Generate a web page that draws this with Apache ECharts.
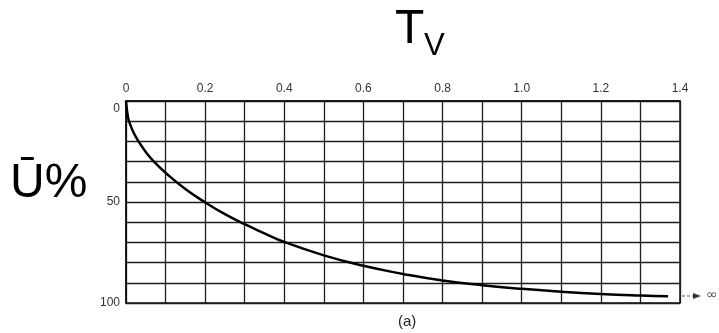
<!DOCTYPE html>
<html>
<head>
<meta charset="utf-8">
<script src="https://cdn.jsdelivr.net/npm/echarts@6/dist/echarts.min.js"></script>
<style>
  html, body { margin: 0; padding: 0; background: #fff; }
  #chart { width: 719px; height: 333px; }
</style>
</head>
<body>
<div id="chart"></div>
<script>
var tvValues = [0, 0.005, 0.01, 0.02, 0.03, 0.05, 0.07, 0.1, 0.15, 0.2, 0.25, 0.3, 0.35, 0.4,
                0.5, 0.6, 0.7, 0.8, 0.9, 1.0, 1.1, 1.2, 1.3, 1.37];
var uValues = [0, 8, 11.3, 16, 19.5, 25.2, 29.9, 35.5, 43.6, 50.2, 56, 61, 65.5, 69.8,
               76.4, 81.6, 85.6, 88.9, 91.2, 93, 94.4, 95.5, 96.3, 96.7];
var xTickLabels = ['0', '0.2', '0.4', '0.6', '0.8', '1.0', '1.2', '1.4'];
var yTickLabels = ['0', '50', '100'];

var curve = tvValues.map(function (t, i) { return [t, uValues[i]]; });

var chart = echarts.init(document.getElementById('chart'));
var gridLine = { show: true, lineStyle: { color: '#1e1e1e', width: 1.3 } };
var labelFont = { fontFamily: 'Liberation Sans, Arial, sans-serif', fontSize: 12, color: '#333' };

chart.setOption({
  backgroundColor: '#fff',
  animation: false,
  grid: { left: 126, right: 39, top: 101, bottom: 30, show: true, borderColor: '#111', borderWidth: 1.5 },
  xAxis: {
    type: 'value', position: 'top', min: 0, max: 1.4, interval: 0.1,
    axisLine: { show: true, lineStyle: { color: '#111', width: 1.5 } },
    axisTick: { show: false },
    splitLine: gridLine,
    axisLabel: Object.assign({
      margin: 6,
      formatter: function (v) {
        var k = Math.round(v * 10);
        if (k % 2) return '';
        return xTickLabels[k / 2] || '';
      }
    }, labelFont)
  },
  yAxis: {
    type: 'value', inverse: true, min: 0, max: 100, interval: 10,
    axisLine: { show: true, lineStyle: { color: '#111', width: 1.5 } },
    axisTick: { show: false },
    splitLine: gridLine,
    axisLabel: Object.assign({
      margin: 6,
      formatter: function (v) {
        var k = Math.round(v);
        if (k % 50) return '';
        // the top "0" sits a little below the line in the original
        return k === 0 ? '{low|0}' : yTickLabels[k / 50];
      },
      rich: { low: { padding: [16, 0, 0, 0], fontFamily: 'Liberation Sans, Arial, sans-serif', fontSize: 12, color: '#333' } }
    }, labelFont)
  },
  series: [{
    type: 'line',
    data: curve,
    smooth: true,
    showSymbol: false,
    lineStyle: { color: '#000', width: 2.5 }
  }],
  graphic: [
    { type: 'text', left: 395, top: 6, style: { text: 'T', fontSize: 48, fontFamily: 'Liberation Sans, Arial, sans-serif', fill: '#000' } },
    { type: 'text', left: 424, top: 31, style: { text: 'V', fontSize: 31, fontFamily: 'Liberation Sans, Arial, sans-serif', fill: '#000' } },
    { type: 'text', left: 10, top: 160, style: { text: 'Ū%', fontSize: 48, fontFamily: 'Liberation Sans, Arial, sans-serif', fill: '#000' } },
    { type: 'text', left: 398, top: 314, style: { text: '(a)', fontSize: 15, fontFamily: 'Liberation Sans, Arial, sans-serif', fill: '#222' } },
    { type: 'line', shape: { x1: 682, y1: 296, x2: 694, y2: 296 }, style: { stroke: '#555', lineWidth: 1.2, lineDash: [3, 2] } },
    { type: 'polygon', shape: { points: [[693, 293], [701, 296], [693, 299]] }, style: { fill: '#333' } },
    { type: 'text', left: 706, top: 288, style: { text: '∞', fontSize: 14, fontFamily: 'DejaVu Sans, sans-serif', fill: '#555' } }
  ]
});
</script>
</body>
</html>
